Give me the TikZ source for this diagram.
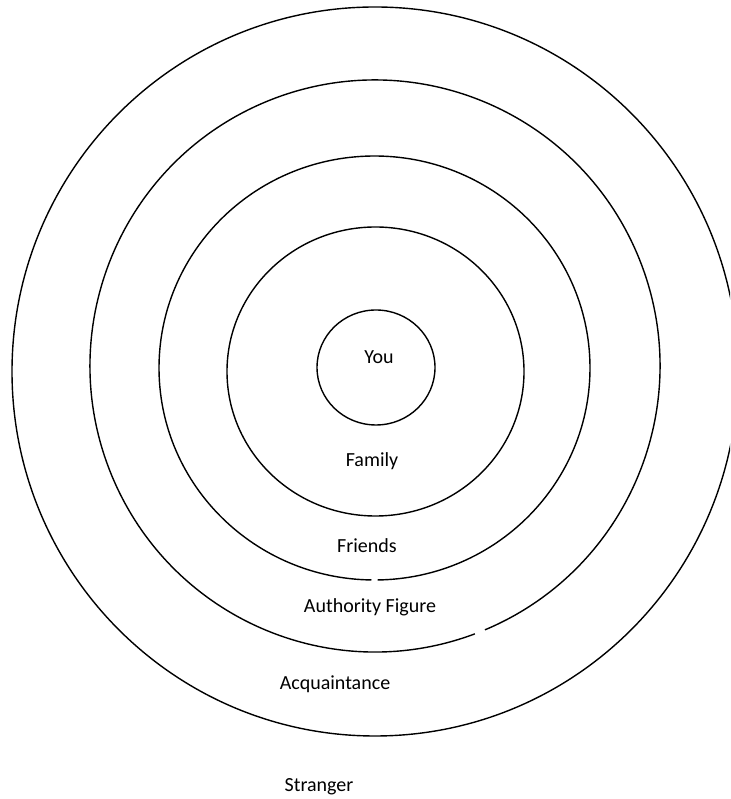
\documentclass[tikz,border=0pt]{standalone}
\usepackage{fontspec}
\setmainfont{Carlito}
\begin{document}
\begin{tikzpicture}[x=1pt,y=1pt,
  ring/.style={line width=1.4pt, draw=black},
  lbl/.style={anchor=base, font=\fontsize{20}{24}\selectfont, inner sep=0pt}]
\useasboundingbox (0,0) rectangle (730,799);
\clip (0,0) rectangle (730,799);
% outer ring (stranger boundary)
\draw[ring] (375,427.5) ellipse [x radius=363, y radius=364.5];
% acquaintance ring with small gap
\draw[ring] (375,433) ++(-67.3:285 and 286) arc[start angle=-67.3, end angle=290.5, x radius=285, y radius=286];
% authority ring with faint gap
\draw[ring] (374.5,431) ++(-89.2:215.5 and 212) arc[start angle=-89.2, end angle=269.2, x radius=215.5, y radius=212];
% friends ring
\draw[ring] (375.5,427.5) ellipse [x radius=148.5, y radius=144.5];
% you
\draw[ring] (376,431.5) ellipse [x radius=59, y radius=57.5];
\node[lbl] (you) at (379,435) {You};
\node[lbl] (family) at (372,332) {Family};
\node[lbl] (friends) at (367,246) {Friends};
\node[lbl] (authority) at (370,186) {Authority Figure};
\node[lbl] (acq) at (335,109) {Acquaintance};
\node[lbl] (stranger) at (319,7) {Stranger};
\end{tikzpicture}
\end{document}
